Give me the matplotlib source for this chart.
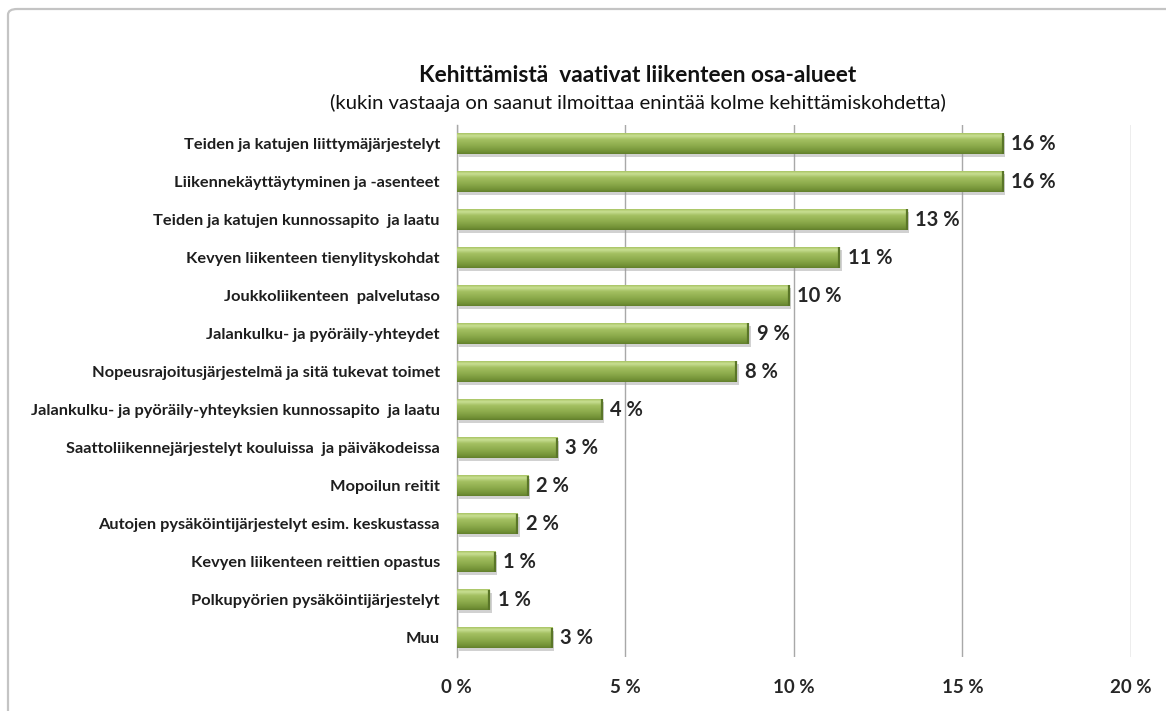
import matplotlib
matplotlib.use("Agg")
import matplotlib.pyplot as plt
import numpy as np
from matplotlib.patches import FancyBboxPatch, Rectangle
from matplotlib.colors import LinearSegmentedColormap
import matplotlib.transforms as mtransforms

# Survey answers: share of respondents naming each area (max three picks each)
categories = [
    "Teiden ja katujen liittymäjärjestelyt",
    "Liikennekäyttäytyminen ja -asenteet",
    "Teiden ja katujen kunnossapito  ja laatu",
    "Kevyen liikenteen tienylityskohdat",
    "Joukkoliikenteen  palvelutaso",
    "Jalankulku- ja pyöräily-yhteydet",
    "Nopeusrajoitusjärjestelmä ja sitä tukevat toimet",
    "Jalankulku- ja pyöräily-yhteyksien kunnossapito  ja laatu",
    "Saattoliikennejärjestelyt kouluissa  ja päiväkodeissa",
    "Mopoilun reitit",
    "Autojen pysäköintijärjestelyt esim. keskustassa",
    "Kevyen liikenteen reittien opastus",
    "Polkupyörien pysäköintijärjestelyt",
    "Muu",
]
shares = [16.2, 16.2, 13.35, 11.35, 9.85, 8.65, 8.3, 4.3, 2.97, 2.12, 1.8, 1.13, 0.97, 2.83]
x_ticks = [0, 5, 10, 15, 20]
x_tick_labels = ["0 %", "5 %", "10 %", "15 %", "20 %"]

title = "Kehittämistä  vaativat liikenteen osa-alueet"
subtitle = "(kukin vastaaja on saanut ilmoittaa enintää kolme kehittämiskohdetta)"

plt.rcParams["font.family"] = ["Lato", "DejaVu Sans"]

W, H = 1166, 711
fig = plt.figure(figsize=(W / 100, H / 100), dpi=100)
fig.patch.set_facecolor("white")

# outer chart frame (only top and left edges are visible)
frame = FancyBboxPatch((8 / W, -0.2), 1.2, 1.2 - 9 / H,
                       boxstyle="round,pad=0,rounding_size=0.008",
                       transform=fig.transFigure, facecolor="none",
                       edgecolor="#c4c4c4", linewidth=1.6, clip_on=False)
fig.patches.append(frame)

ax = fig.add_axes([456.5 / W, 1 - 657 / H, (1131 - 456.5) / W, (657 - 124.5) / H])

n = len(categories)
ypos = np.arange(n)
bar_h = 0.54

bars = ax.barh(ypos, shares, height=bar_h, color="#8aab4c", zorder=3,
               edgecolor="none")

# soft drop shadow under each bar
shadow_off = mtransforms.offset_copy(ax.transData, fig=fig, x=2.5, y=-3, units="dots")
for b in bars:
    ax.add_patch(Rectangle((b.get_x(), b.get_y()), b.get_width(), b.get_height(),
                           transform=shadow_off, facecolor="#9a9a9a", alpha=0.45,
                           edgecolor="none", zorder=2))

# cylinder-like shading across each bar
shade = LinearSegmentedColormap.from_list(
    "bar_shade",
    [(0.0, "#a9c465"), (0.12, "#c9df93"), (0.3, "#a4c062"),
     (0.6, "#8dac4c"), (0.88, "#739237"), (1.0, "#62802c")])
grad = np.linspace(0, 1, 64).reshape(-1, 1)
for b in bars:
    x0, y0, w, h = b.get_x(), b.get_y(), b.get_width(), b.get_height()
    ax.imshow(grad, cmap=shade, aspect="auto", interpolation="bilinear",
              extent=[x0, x0 + w, y0 + h, y0], zorder=4)
    # darker bevel at the bar end
    ax.plot([x0 + w, x0 + w], [y0, y0 + h], color="#5a7628", lw=1.6, zorder=5,
            solid_capstyle="butt")

for yi, v in zip(ypos, shares):
    ax.annotate(f"{v:.0f} %", xy=(v, yi), xytext=(6, 0), textcoords="offset points",
                va="center", ha="left", fontsize=14.5, fontweight="bold",
                color="#262626", zorder=6)

ax.set_xlim(0, 20)
ax.set_ylim(n - 0.5, -0.5)
ax.set_xticks(x_ticks)
ax.set_xticklabels(x_tick_labels, fontsize=13.5, fontweight="bold", color="#262626")
ax.set_yticks(ypos)
ax.set_yticklabels(categories, fontsize=11.8, fontweight="bold", color="#1e1e1e")
ax.tick_params(axis="both", length=0)
ax.tick_params(axis="y", pad=12)
ax.tick_params(axis="x", pad=16)
ax.grid(axis="x", color="#a8a8a8", linewidth=1.0, zorder=0)
ax.set_axisbelow(True)
for side in ["top", "right", "bottom"]:
    ax.spines[side].set_visible(False)
ax.spines["left"].set_color("#a8a8a8")
ax.spines["left"].set_linewidth(1.0)

fig.text(638 / W, 1 - 75 / H, title, ha="center", va="center",
         fontsize=16.4, fontweight="bold", color="#111111")
fig.text(638 / W, 1 - 103 / H, subtitle, ha="center", va="center",
         fontsize=14.6, color="#111111")

fig.savefig("out.png", dpi=100, facecolor="white")
